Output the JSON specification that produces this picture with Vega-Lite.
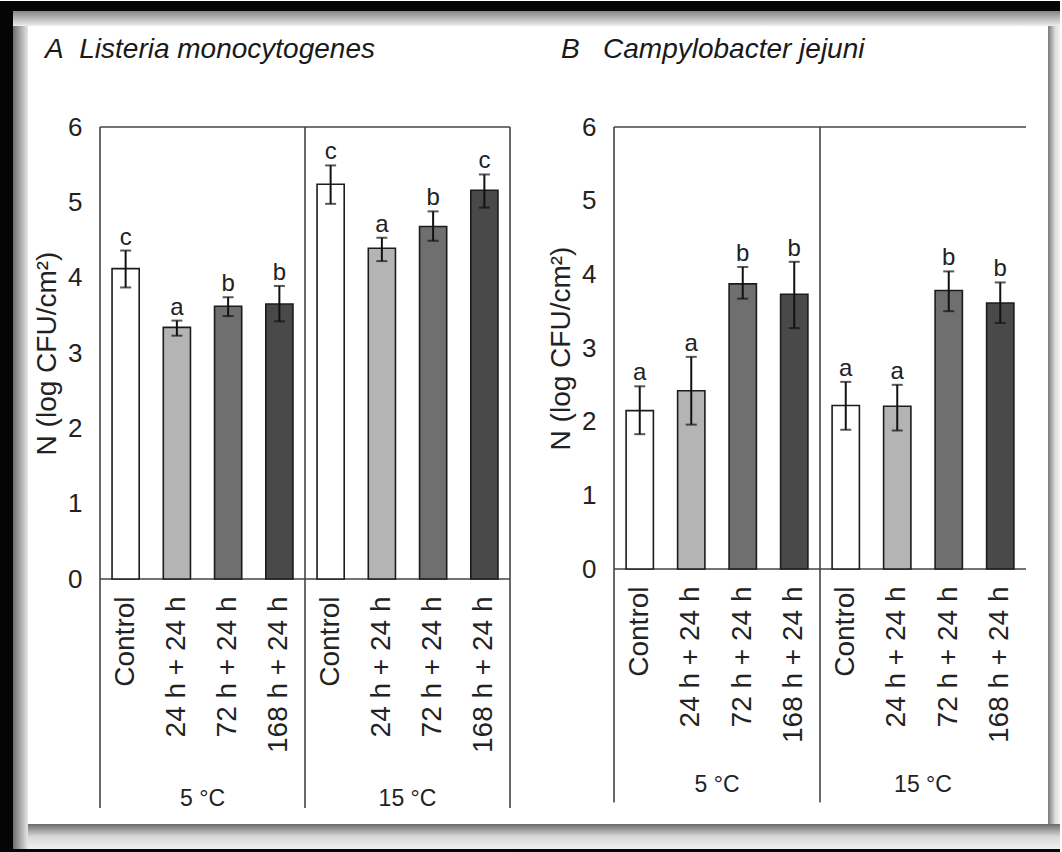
{
  "$schema": "https://vega.github.io/schema/vega-lite/v6.json",
  "background": "white",
  "padding": 0,
  "spacing": -3,
  "config": {
    "font": "Liberation Sans",
    "view": {"stroke": null},
    "axis": {"labelColor": "#222222", "titleColor": "#222222", "grid": false},
    "title": {"color": "#1a1a1a"}
  },
  "hconcat": [
    {
      "title": {"text": "A\u00a0\u00a0Listeria monocytogenes", "anchor": "start", "frame": "group", "dx": -55, "fontStyle": "italic", "fontWeight": "normal", "fontSize": 28, "offset": -63},
      "width": 410,
      "height": 452,
      "data": {"values": [
        {"cat": "5|Control", "trt": "Control", "mean": 4.12, "lo": 3.87, "hi": 4.36, "sig": "c"},
        {"cat": "5|24 h + 24 h", "trt": "24 h + 24 h", "mean": 3.34, "lo": 3.23, "hi": 3.43, "sig": "a"},
        {"cat": "5|72 h + 24 h", "trt": "72 h + 24 h", "mean": 3.62, "lo": 3.49, "hi": 3.74, "sig": "b"},
        {"cat": "5|168 h + 24 h", "trt": "168 h + 24 h", "mean": 3.65, "lo": 3.42, "hi": 3.89, "sig": "b"},
        {"cat": "15|Control", "trt": "Control", "mean": 5.24, "lo": 4.98, "hi": 5.49, "sig": "c"},
        {"cat": "15|24 h + 24 h", "trt": "24 h + 24 h", "mean": 4.39, "lo": 4.22, "hi": 4.53, "sig": "a"},
        {"cat": "15|72 h + 24 h", "trt": "72 h + 24 h", "mean": 4.68, "lo": 4.49, "hi": 4.88, "sig": "b"},
        {"cat": "15|168 h + 24 h", "trt": "168 h + 24 h", "mean": 5.16, "lo": 4.93, "hi": 5.37, "sig": "c"}
      ]},
      "layer": [
        {
          "layer": [
            {
              "data": {"values": [{}]},
              "mark": {"type": "rect", "fill": "#050505"},
              "encoding": {
                "x": {"datum": -1.9512, "type": "quantitative", "scale": {"domain": [0, 8], "nice": false, "zero": false}, "axis": null},
                "x2": {"datum": -1.6976},
                "y": {"datum": 7.6726, "type": "quantitative"},
                "y2": {"datum": -3.6372}
              }
            },
            {
              "data": {"values": [{}]},
              "mark": {"type": "rect", "fill": {"gradient": "linear", "x1": 0, "y1": 0, "x2": 1, "y2": 0, "stops": [{"offset": 0, "color": "#6e6e6e"}, {"offset": 1, "color": "#e6e6e6"}]}},
              "encoding": {
                "x": {"datum": -1.6976, "type": "quantitative"},
                "x2": {"datum": -1.4049},
                "y": {"datum": 7.5398, "type": "quantitative"},
                "y2": {"datum": -3.5841}
              }
            },
            {
              "data": {"values": [{}]},
              "mark": {"type": "rect", "fill": {"gradient": "linear", "x1": 0, "y1": 0, "x2": 0, "y2": 1, "stops": [{"offset": 0, "color": "#858585"}, {"offset": 1, "color": "#eeeeee"}]}},
              "encoding": {
                "x": {"datum": -1.6976, "type": "quantitative"},
                "x2": {"datum": 8.1951},
                "y": {"datum": 7.5398, "type": "quantitative"},
                "y2": {"datum": 7.3407}
              }
            },
            {
              "data": {"values": [{}]},
              "mark": {"type": "rect", "fill": {"gradient": "linear", "x1": 0, "y1": 0, "x2": 0, "y2": 1, "stops": [{"offset": 0, "color": "#6a6a6a"}, {"offset": 0.5, "color": "#d8d8d8"}, {"offset": 1, "color": "#f0f0f0"}]}},
              "encoding": {
                "x": {"datum": -1.4049, "type": "quantitative"},
                "x2": {"datum": 8.1951},
                "y": {"datum": -3.2522, "type": "quantitative"},
                "y2": {"datum": -3.5841}
              }
            },
            {
              "data": {"values": [{}]},
              "mark": {"type": "rect", "fill": "#050505"},
              "encoding": {
                "x": {"datum": -1.9512, "type": "quantitative"},
                "x2": {"datum": 8.1951},
                "y": {"datum": 7.6726, "type": "quantitative"},
                "y2": {"datum": 7.5398}
              }
            },
            {
              "data": {"values": [{}]},
              "mark": {"type": "rect", "fill": "#050505"},
              "encoding": {
                "x": {"datum": -1.9512, "type": "quantitative"},
                "x2": {"datum": 8.1951},
                "y": {"datum": -3.5841, "type": "quantitative"},
                "y2": {"datum": -3.6372}
              }
            },
            {
              "data": {"values": [{"edge": 0}, {"edge": 4}, {"edge": 8}]},
              "mark": {"type": "rule", "color": "#444444", "strokeWidth": 1.6},
              "encoding": {
                "x": {"field": "edge", "type": "quantitative"},
                "y": {"datum": 6, "type": "quantitative"},
                "y2": {"datum": -3.04}
              }
            },
            {
              "data": {"values": [{"level": 6}, {"level": 0}]},
              "mark": {"type": "rule", "color": "#444444", "strokeWidth": 1.6},
              "encoding": {
                "x": {"datum": 0, "type": "quantitative"},
                "x2": {"datum": 8},
                "y": {"field": "level", "type": "quantitative"}
              }
            },
            {
              "data": {"values": [{"mid": 2, "temp": "5 °C"}, {"mid": 6, "temp": "15 °C"}]},
              "mark": {"type": "text", "fontSize": 23, "baseline": "middle", "color": "#222222"},
              "encoding": {
                "x": {"field": "mid", "type": "quantitative"},
                "y": {"datum": -2.92, "type": "quantitative"},
                "text": {"field": "temp"}
              }
            }
          ]
        },
        {
          "encoding": {
            "x": {"field": "cat", "type": "nominal", "sort": null,
              "scale": {"paddingInner": 0.47, "paddingOuter": 0.235},
              "axis": {"orient": "bottom", "title": null, "labelExpr": "split(datum.label, '|')[1]", "labelAngle": -90, "labelAlign": "right", "labelBaseline": "middle", "labelFontSize": 28, "labelPadding": 17, "tickSize": 0, "ticks": false, "domain": false, "labelLimit": 300}},
            "y": {"field": "mean", "type": "quantitative",
              "scale": {"domain": [0, 6], "nice": false},
              "axis": {"title": "N (log CFU/cm²)", "values": [0, 1, 2, 3, 4, 5, 6], "format": "d", "ticks": false, "tickSize": 0, "domain": false, "labelFontSize": 26, "labelPadding": 18, "titleFontSize": 28, "titleFontWeight": "normal", "titlePadding": 6}}
          },
          "layer": [
            {
              "mark": {"type": "bar", "stroke": "#1c1c1c", "strokeWidth": 1.6},
              "encoding": {
                "fill": {"field": "trt", "type": "nominal", "legend": null,
                  "scale": {"domain": ["Control", "24 h + 24 h", "72 h + 24 h", "168 h + 24 h"], "range": ["#ffffff", "#b4b4b4", "#6f6f6f", "#494949"]}}
              }
            },
            {
              "mark": {"type": "rule", "color": "#111111", "strokeWidth": 2},
              "encoding": {"y": {"field": "lo", "type": "quantitative"}, "y2": {"field": "hi"}}
            },
            {
              "mark": {"type": "tick", "color": "#111111", "size": 11, "thickness": 2},
              "encoding": {"y": {"field": "lo", "type": "quantitative"}}
            },
            {
              "mark": {"type": "tick", "color": "#111111", "size": 11, "thickness": 2},
              "encoding": {"y": {"field": "hi", "type": "quantitative"}}
            },
            {
              "mark": {"type": "text", "fontSize": 24, "baseline": "alphabetic", "dy": -6, "color": "#222222"},
              "encoding": {"y": {"field": "hi", "type": "quantitative"}, "text": {"field": "sig"}}
            }
          ]
        }
      ],
      "resolve": {"scale": {"x": "independent"}, "axis": {"x": "independent"}}
    },
    {
      "title": {"text": "B\u00a0\u00a0 Campylobacter jejuni", "anchor": "start", "frame": "group", "dx": -53, "fontStyle": "italic", "fontWeight": "normal", "fontSize": 28, "offset": -63},
      "width": 412,
      "height": 442,
      "data": {"values": [
        {"cat": "5|Control", "trt": "Control", "mean": 2.15, "lo": 1.83, "hi": 2.48, "sig": "a"},
        {"cat": "5|24 h + 24 h", "trt": "24 h + 24 h", "mean": 2.42, "lo": 1.96, "hi": 2.88, "sig": "a"},
        {"cat": "5|72 h + 24 h", "trt": "72 h + 24 h", "mean": 3.87, "lo": 3.67, "hi": 4.10, "sig": "b"},
        {"cat": "5|168 h + 24 h", "trt": "168 h + 24 h", "mean": 3.73, "lo": 3.27, "hi": 4.17, "sig": "b"},
        {"cat": "15|Control", "trt": "Control", "mean": 2.22, "lo": 1.89, "hi": 2.54, "sig": "a"},
        {"cat": "15|24 h + 24 h", "trt": "24 h + 24 h", "mean": 2.21, "lo": 1.88, "hi": 2.50, "sig": "a"},
        {"cat": "15|72 h + 24 h", "trt": "72 h + 24 h", "mean": 3.78, "lo": 3.50, "hi": 4.04, "sig": "b"},
        {"cat": "15|168 h + 24 h", "trt": "168 h + 24 h", "mean": 3.61, "lo": 3.34, "hi": 3.89, "sig": "b"}
      ]},
      "layer": [
        {
          "layer": [
            {
              "data": {"values": [{}]},
              "mark": {"type": "rect", "fill": "#050505"},
              "encoding": {
                "x": {"datum": -1.8641, "type": "quantitative", "scale": {"domain": [0, 8], "nice": false, "zero": false}, "axis": null},
                "x2": {"datum": 8.6602},
                "y": {"datum": 7.7104, "type": "quantitative"},
                "y2": {"datum": 7.5747}
              }
            },
            {
              "data": {"values": [{}]},
              "mark": {"type": "rect", "fill": {"gradient": "linear", "x1": 0, "y1": 0, "x2": 0, "y2": 1, "stops": [{"offset": 0, "color": "#858585"}, {"offset": 1, "color": "#eeeeee"}]}},
              "encoding": {
                "x": {"datum": -1.8641, "type": "quantitative"},
                "x2": {"datum": 8.6602},
                "y": {"datum": 7.5747, "type": "quantitative"},
                "y2": {"datum": 7.3710}
              }
            },
            {
              "data": {"values": [{}]},
              "mark": {"type": "rect", "fill": {"gradient": "linear", "x1": 0, "y1": 0, "x2": 1, "y2": 0, "stops": [{"offset": 0, "color": "#7a7a7a"}, {"offset": 0.6, "color": "#dddddd"}, {"offset": 1, "color": "#f2f2f2"}]}},
              "encoding": {
                "x": {"datum": 8.4272, "type": "quantitative"},
                "x2": {"datum": 8.6602},
                "y": {"datum": 7.3710, "type": "quantitative"},
                "y2": {"datum": -3.4615}
              }
            },
            {
              "data": {"values": [{}]},
              "mark": {"type": "rect", "fill": {"gradient": "linear", "x1": 0, "y1": 0, "x2": 0, "y2": 1, "stops": [{"offset": 0, "color": "#6a6a6a"}, {"offset": 0.5, "color": "#d8d8d8"}, {"offset": 1, "color": "#f0f0f0"}]}},
              "encoding": {
                "x": {"datum": -1.8641, "type": "quantitative"},
                "x2": {"datum": 8.6602},
                "y": {"datum": -3.4615, "type": "quantitative"},
                "y2": {"datum": -3.8009}
              }
            },
            {
              "data": {"values": [{}]},
              "mark": {"type": "rect", "fill": "#050505"},
              "encoding": {
                "x": {"datum": -1.8641, "type": "quantitative"},
                "x2": {"datum": 8.6602},
                "y": {"datum": -3.8009, "type": "quantitative"},
                "y2": {"datum": -3.8552}
              }
            },
            {
              "data": {"values": [{"edge": 0}, {"edge": 4}]},
              "mark": {"type": "rule", "color": "#444444", "strokeWidth": 1.6},
              "encoding": {
                "x": {"field": "edge", "type": "quantitative"},
                "y": {"datum": 6, "type": "quantitative"},
                "y2": {"datum": -3.17}
              }
            },
            {
              "data": {"values": [{"level": 6}, {"level": 0}]},
              "mark": {"type": "rule", "color": "#444444", "strokeWidth": 1.6},
              "encoding": {
                "x": {"datum": 0, "type": "quantitative"},
                "x2": {"datum": 8},
                "y": {"field": "level", "type": "quantitative"}
              }
            },
            {
              "data": {"values": [{"mid": 2, "temp": "5 °C"}, {"mid": 6, "temp": "15 °C"}]},
              "mark": {"type": "text", "fontSize": 23, "baseline": "middle", "color": "#222222"},
              "encoding": {
                "x": {"field": "mid", "type": "quantitative"},
                "y": {"datum": -2.93, "type": "quantitative"},
                "text": {"field": "temp"}
              }
            }
          ]
        },
        {
          "encoding": {
            "x": {"field": "cat", "type": "nominal", "sort": null,
              "scale": {"paddingInner": 0.47, "paddingOuter": 0.235},
              "axis": {"orient": "bottom", "title": null, "labelExpr": "split(datum.label, '|')[1]", "labelAngle": -90, "labelAlign": "right", "labelBaseline": "middle", "labelFontSize": 28, "labelPadding": 17, "tickSize": 0, "ticks": false, "domain": false, "labelLimit": 300}},
            "y": {"field": "mean", "type": "quantitative",
              "scale": {"domain": [0, 6], "nice": false},
              "axis": {"title": "N (log CFU/cm²)", "values": [0, 1, 2, 3, 4, 5, 6], "format": "d", "ticks": false, "tickSize": 0, "domain": false, "labelFontSize": 26, "labelPadding": 18, "titleFontSize": 28, "titleFontWeight": "normal", "titlePadding": 6}}
          },
          "layer": [
            {
              "mark": {"type": "bar", "stroke": "#1c1c1c", "strokeWidth": 1.6},
              "encoding": {
                "fill": {"field": "trt", "type": "nominal", "legend": null,
                  "scale": {"domain": ["Control", "24 h + 24 h", "72 h + 24 h", "168 h + 24 h"], "range": ["#ffffff", "#b4b4b4", "#6f6f6f", "#494949"]}}
              }
            },
            {
              "mark": {"type": "rule", "color": "#111111", "strokeWidth": 2},
              "encoding": {"y": {"field": "lo", "type": "quantitative"}, "y2": {"field": "hi"}}
            },
            {
              "mark": {"type": "tick", "color": "#111111", "size": 11, "thickness": 2},
              "encoding": {"y": {"field": "lo", "type": "quantitative"}}
            },
            {
              "mark": {"type": "tick", "color": "#111111", "size": 11, "thickness": 2},
              "encoding": {"y": {"field": "hi", "type": "quantitative"}}
            },
            {
              "mark": {"type": "text", "fontSize": 24, "baseline": "alphabetic", "dy": -6, "color": "#222222"},
              "encoding": {"y": {"field": "hi", "type": "quantitative"}, "text": {"field": "sig"}}
            }
          ]
        }
      ],
      "resolve": {"scale": {"x": "independent"}, "axis": {"x": "independent"}}
    }
  ]
}
